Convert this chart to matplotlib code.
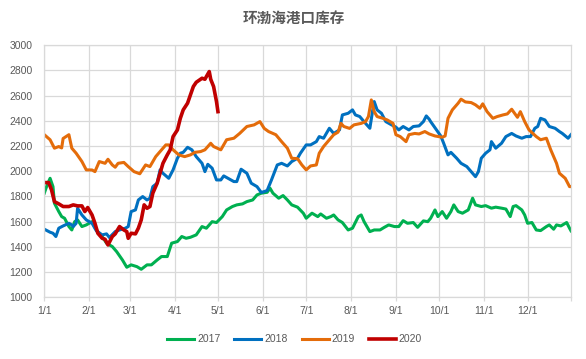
import matplotlib
matplotlib.use('Agg')
import matplotlib.pyplot as plt

plt.rcParams['font.family'] = ['Liberation Sans', 'Noto Sans CJK SC', 'DejaVu Sans']

title = '环渤海港口库存'
month_days = [0, 31, 59, 90, 120, 151, 181, 212, 243, 273, 304, 334]
month_labels = ['1/1', '2/1', '3/1', '4/1', '5/1', '6/1', '7/1', '8/1', '9/1', '10/1', '11/1', '12/1']

# day of year (0 = 1/1) and stock values
days_2017 = [0, 2, 4, 6, 7, 10, 12, 14, 17, 19, 21, 23, 26, 29, 33, 36, 40, 43, 47, 50, 54, 57, 60, 64, 67,
             71, 74, 78, 81, 85, 88, 92, 95, 98, 101, 105, 109, 112, 116, 119, 123, 126, 130, 133, 137, 140,
             144, 147, 150, 154, 156, 158, 162, 165, 168, 171, 175, 179, 181, 185, 189, 191, 195, 198, 200,
             203, 206, 210, 213, 217, 219, 221, 225, 228, 232, 235, 238, 242, 245, 248, 251, 255, 258, 262,
             265, 267, 270, 272, 275, 278, 281, 283, 286, 289, 293, 296, 298, 302, 305, 309, 312, 316, 319,
             322, 324, 326, 330, 332, 334, 337, 340, 343, 347, 349, 352, 354, 357, 361, 363, 364]
vals_2017 = [1826, 1892, 1944, 1878, 1746, 1680, 1640, 1627, 1561, 1534, 1600, 1614, 1561, 1574, 1600, 1534,
             1482, 1429, 1402, 1362, 1296, 1238, 1257, 1243, 1222, 1257, 1257, 1296, 1323, 1323, 1429, 1442,
             1482, 1468, 1476, 1495, 1561, 1548, 1600, 1593, 1640, 1693, 1720, 1733, 1741, 1759, 1772, 1812,
             1826, 1833, 1865, 1826, 1786, 1807, 1772, 1733, 1715, 1667, 1627, 1667, 1640, 1661, 1627, 1640,
             1653, 1614, 1593, 1534, 1548, 1640, 1653, 1600, 1521, 1534, 1534, 1555, 1574, 1561, 1561, 1608,
             1587, 1593, 1555, 1606, 1600, 1627, 1693, 1640, 1680, 1627, 1680, 1733, 1680, 1667, 1693, 1786,
             1733, 1720, 1727, 1707, 1715, 1707, 1700, 1640, 1720, 1727, 1693, 1653, 1587, 1593, 1534, 1529,
             1561, 1574, 1540, 1574, 1566, 1593, 1548, 1527]

days_2018 = [0, 4, 6, 8, 10, 13, 17, 19, 20, 22, 23, 26, 29, 33, 36, 40, 43, 45, 49, 52, 56, 58, 60, 63, 65,
             68, 71, 73, 75, 78, 80, 82, 86, 89, 92, 94, 96, 99, 102, 105, 109, 111, 113, 116, 119, 122, 124,
             127, 131, 133, 136, 140, 143, 147, 150, 154, 157, 161, 164, 168, 171, 175, 177, 181, 184, 188,
             190, 193, 197, 200, 204, 206, 210, 213, 215, 218, 220, 222, 225, 227, 228, 230, 233, 236, 240,
             243, 245, 248, 252, 255, 259, 262, 264, 266, 267, 271, 274, 276, 279, 281, 285, 288, 292, 295,
             298, 300, 302, 305, 308, 309, 312, 316, 319, 323, 326, 330, 333, 336, 339, 341, 343, 346, 349,
             353, 356, 358, 362, 364]
vals_2018 = [1540, 1516, 1508, 1482, 1548, 1566, 1587, 1574, 1561, 1587, 1706, 1653, 1614, 1587, 1527, 1495,
             1503, 1474, 1521, 1534, 1548, 1561, 1680, 1693, 1772, 1799, 1772, 1786, 1878, 1905, 2011, 1984,
             1944, 2011, 2103, 2143, 2150, 2190, 2170, 2116, 2063, 1997, 2055, 2024, 1931, 1931, 1963, 1944,
             1918, 1918, 2016, 1984, 1905, 1878, 1831, 1847, 1931, 2050, 2063, 2042, 2077, 2103, 2143, 2209,
             2209, 2235, 2275, 2262, 2341, 2300, 2328, 2447, 2460, 2487, 2447, 2434, 2407, 2380, 2341, 2487,
             2553, 2487, 2460, 2394, 2368, 2350, 2328, 2355, 2328, 2355, 2360, 2394, 2439, 2413, 2394, 2328,
             2280, 2222, 2130, 2150, 2103, 2063, 2037, 1997, 1957, 1997, 2103, 2143, 2170, 2235, 2183, 2222,
             2275, 2300, 2280, 2262, 2275, 2275, 2341, 2355, 2420, 2407, 2355, 2341, 2315, 2300, 2262, 2290]

days_2019 = [0, 4, 7, 10, 12, 13, 17, 19, 22, 26, 29, 33, 35, 38, 42, 44, 47, 49, 51, 55, 58, 62, 66, 70, 73,
             77, 80, 84, 86, 89, 93, 97, 101, 104, 108, 111, 115, 117, 122, 126, 131, 135, 140, 145, 149, 152,
             155, 160, 164, 168, 171, 175, 178, 181, 184, 188, 190, 193, 197, 200, 203, 205, 207, 211, 214,
             219, 222, 224, 226, 228, 230, 234, 237, 241, 243, 246, 250, 252, 256, 259, 263, 266, 270, 275,
             277, 279, 282, 286, 288, 291, 295, 298, 301, 303, 306, 310, 313, 317, 320, 323, 325, 327, 329,
             332, 335, 340, 343, 347, 350, 354, 356, 360, 363, 364]
vals_2019 = [2290, 2250, 2183, 2196, 2185, 2260, 2290, 2183, 2143, 2077, 2011, 2010, 1997, 2077, 2063, 2095,
             2050, 2032, 2063, 2070, 2037, 1997, 1980, 2050, 2037, 2116, 2156, 2209, 2209, 2170, 2130, 2116,
             2130, 2150, 2156, 2170, 2222, 2196, 2170, 2250, 2262, 2300, 2355, 2368, 2394, 2340, 2315, 2290,
             2235, 2183, 2103, 2100, 2050, 2011, 2042, 2050, 2143, 2196, 2250, 2290, 2310, 2380, 2355, 2340,
             2368, 2380, 2394, 2434, 2566, 2473, 2434, 2420, 2407, 2380, 2290, 2275, 2235, 2290, 2300, 2296,
             2315, 2296, 2280, 2270, 2280, 2420, 2487, 2540, 2572, 2550, 2545, 2527, 2500, 2535, 2473, 2420,
             2434, 2447, 2455, 2492, 2460, 2428, 2473, 2394, 2328, 2275, 2250, 2262, 2170, 2063, 1984, 1944,
             1878, 1878]

days_2020 = [0, 3, 5, 7, 10, 13, 17, 20, 23, 26, 28, 30, 33, 35, 37, 40, 42, 44, 47, 49, 52, 55, 57, 58, 60,
             63, 65, 67, 69, 71, 73, 75, 78, 80, 82, 85, 87, 89, 92, 94, 96, 99, 101, 103, 105, 109, 111, 112,
             114, 115, 117, 119, 120]
vals_2020 = [1910, 1910, 1852, 1759, 1741, 1720, 1720, 1733, 1725, 1725, 1680, 1712, 1653, 1587, 1508, 1468,
             1460, 1415, 1482, 1503, 1561, 1534, 1521, 1468, 1508, 1503, 1548, 1614, 1733, 1706, 1720, 1826,
             1905, 1984, 2063, 2130, 2170, 2275, 2328, 2420, 2487, 2540, 2606, 2672, 2706, 2738, 2730, 2751,
             2791, 2730, 2672, 2553, 2473]

grid_c = '#d9d9d9'
text_c = '#595959'

fig, ax = plt.subplots(figsize=(5.86, 3.59), dpi=100)
fig.subplots_adjust(left=0.0756, right=0.9744, top=0.874, bottom=0.172)

ax.plot(days_2017, vals_2017, color='#00B050', lw=2.2, label='2017')
ax.plot(days_2018, vals_2018, color='#0070C0', lw=2.2, label='2018')
ax.plot(days_2019, vals_2019, color='#E46C0A', lw=2.2, label='2019')
ax.plot(days_2020, vals_2020, color='#C00000', lw=2.6, label='2020')

ax.set_xlim(0, 364)
ax.set_ylim(1000, 3000)
ax.set_yticks(range(1000, 3001, 200))
ax.set_xticks(month_days)
ax.set_xticklabels(month_labels)
ax.set_xticks([364], minor=True)
ax.grid(True, color=grid_c, lw=0.9)
ax.set_axisbelow(True)
for s in ax.spines.values():
    s.set_color(grid_c)
    s.set_linewidth(0.9)
ax.tick_params(axis='x', which='both', length=3, color=grid_c, width=0.9, labelsize=7.5,
               labelcolor=text_c, pad=3.5)
ax.tick_params(axis='y', length=0, labelsize=7.5, labelcolor=text_c, pad=8.5)

fig.text(0.502, 0.949, title, ha='center', va='center', fontsize=10.5, fontweight='bold',
         color=text_c, family=['Noto Sans CJK SC', 'DejaVu Sans'])

fig.legend(loc='center', bbox_to_anchor=(0.503, 0.055), ncol=4, frameon=False, fontsize=7.5,
           labelcolor=text_c, handlelength=2.6, handletextpad=0.3, columnspacing=1.3)

fig.savefig('out.png', dpi=100)
